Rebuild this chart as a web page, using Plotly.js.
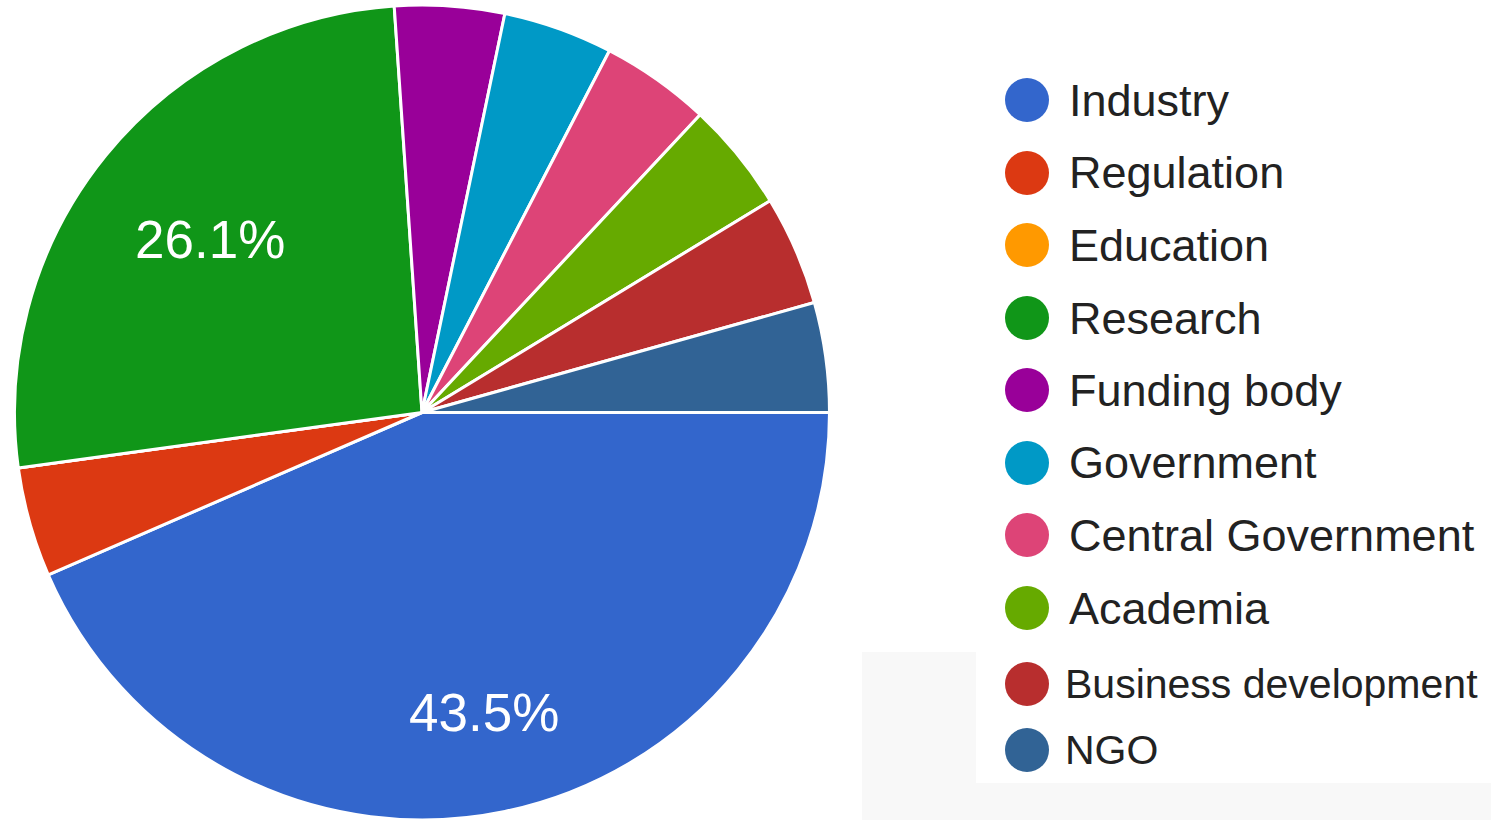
<!DOCTYPE html>
<html>
<head>
<meta charset="utf-8">
<script src="https://cdn.plot.ly/plotly-3.0.1.min.js"></script>
<style>
  html, body { margin: 0; padding: 0; background: #ffffff; }
  #chart { width: 1491px; height: 820px; }
</style>
</head>
<body>
<div id="chart"></div>
<script>
// ---- data ----
const categories = ["Industry", "Regulation", "Education", "Research", "Funding body",
  "Government", "Central Government", "Academia", "Business development", "NGO"];
const counts = [10, 1, 0, 6, 1, 1, 1, 1, 1, 1];
const colors = ["#3366cc", "#dc3912", "#ff9900", "#109618", "#990099",
  "#0099c6", "#dd4477", "#66aa00", "#b82e2e", "#316395"];

// ---- layout constants ----
const W = 1491, H = 820;
const total = counts.reduce((a, b) => a + b, 0);

// pie geometry (pixels)
const pieL = 14, pieR = 830, pieTop = 5, pieBot = 820;
const CX = (pieL + pieR) / 2, CY = (pieTop + pieBot) / 2, RAD = (pieR - pieL) / 2;
// radial placement (fraction of radius) of the percentage labels on large slices
const labelFrac = [0.75, 0.67, 0.67, 0.67, 0.67, 0.67, 0.67, 0.67, 0.67, 0.67];

const rowY = [100, 173, 245, 318, 390, 463, 535, 608, 684, 750];
const rowFont = [45, 45, 45, 45, 45, 45, 45, 45, 41, 41];
const rowTextX = [1067, 1067, 1067, 1067, 1067, 1067, 1067, 1067, 1063, 1063];
const circX = 1027, circR = 22;

const px = x => x / W;
const py = y => 1 - y / H;

const shapes = [
  // faint grey backdrop in lower right
  { type: "rect", xref: "paper", yref: "paper", layer: "below",
    x0: px(862), x1: px(1491), y0: py(820), y1: py(652),
    fillcolor: "#f8f8f8", line: { width: 0 } },
  { type: "rect", xref: "paper", yref: "paper", layer: "below",
    x0: px(976), x1: px(1491), y0: py(783), y1: py(600),
    fillcolor: "#ffffff", line: { width: 0 } }
];
const annotations = [];
categories.forEach((c, i) => {
  shapes.push({
    type: "circle", xref: "paper", yref: "paper",
    x0: px(circX - circR), x1: px(circX + circR),
    y0: py(rowY[i] + circR), y1: py(rowY[i] - circR),
    fillcolor: colors[i], line: { width: 0 }
  });
  annotations.push({
    xref: "paper", yref: "paper", x: px(rowTextX[i]), y: py(rowY[i]),
    xanchor: "left", yanchor: "middle", showarrow: false, text: c,
    font: { family: "Liberation Sans, Arial, sans-serif", size: rowFont[i], color: "#222222" }
  });
});

// percentage labels on slices larger than 10%, placed along each slice bisector
let cum = 0;
counts.forEach((v, i) => {
  const share = v / total;
  const mid = (cum + share / 2) * 2 * Math.PI; // clockwise from 3 o'clock
  cum += share;
  if (share <= 0.1) return;
  const r = labelFrac[i] * RAD;
  annotations.push({
    xref: "paper", yref: "paper",
    x: px(CX + r * Math.cos(mid)), y: py(CY + r * Math.sin(mid)),
    xanchor: "center", yanchor: "middle", showarrow: false,
    text: (share * 100).toFixed(1) + "%",
    font: { family: "Liberation Sans, Arial, sans-serif", size: 53, color: "#ffffff" }
  });
});

const trace = {
  type: "pie",
  labels: categories,
  values: counts,
  sort: false,
  direction: "clockwise",
  rotation: 90,
  marker: { colors: colors, line: { color: "#ffffff", width: 3 } },
  textinfo: "none",
  textposition: "none",
  hoverinfo: "label+percent",
  showlegend: false,
  domain: { x: [px(pieL), px(pieR)], y: [py(pieBot), py(pieTop)] }
};

Plotly.newPlot("chart", [trace], {
  width: W, height: H,
  margin: { l: 0, r: 0, t: 0, b: 0, pad: 0 },
  paper_bgcolor: "#ffffff",
  showlegend: false,
  shapes: shapes,
  annotations: annotations
}, { displayModeBar: false, staticPlot: true });
</script>
</body>
</html>
